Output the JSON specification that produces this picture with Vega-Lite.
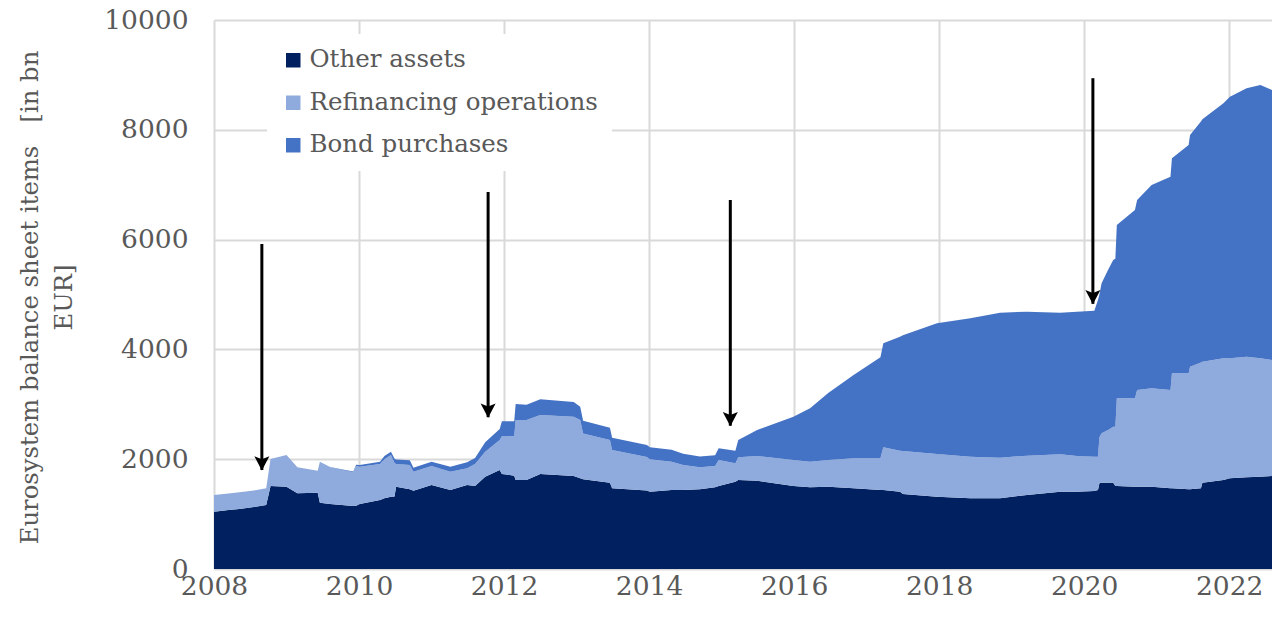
{
  "$schema": "https://vega.github.io/schema/vega-lite/v6.json",
  "width": 1058,
  "height": 549,
  "autosize": "none",
  "padding": {"left": 214, "top": 20, "right": 0, "bottom": 49},
  "background": "white",
  "config": {
    "view": {"stroke": null},
    "font": "DejaVu Serif",
    "axis": {
      "labelFont": "DejaVu Serif",
      "labelColor": "#595959",
      "labelFontSize": 26.5,
      "gridColor": "#d9d9d9",
      "gridWidth": 2,
      "ticks": false,
      "domain": false
    }
  },
  "datasets": {
    "bs": [
      {"t": 2008.00, "oth": 1044, "ref": 304, "bnd": 0},
      {"t": 2008.20, "oth": 1075, "ref": 300, "bnd": 0},
      {"t": 2008.35, "oth": 1093, "ref": 304, "bnd": 0},
      {"t": 2008.55, "oth": 1130, "ref": 300, "bnd": 0},
      {"t": 2008.72, "oth": 1166, "ref": 304, "bnd": 0},
      {"t": 2008.78, "oth": 1512, "ref": 492, "bnd": 0},
      {"t": 2009.00, "oth": 1500, "ref": 576, "bnd": 0},
      {"t": 2009.15, "oth": 1379, "ref": 473, "bnd": 0},
      {"t": 2009.43, "oth": 1390, "ref": 401, "bnd": 0},
      {"t": 2009.46, "oth": 1208, "ref": 747, "bnd": 0},
      {"t": 2009.60, "oth": 1184, "ref": 668, "bnd": 8},
      {"t": 2009.92, "oth": 1148, "ref": 613, "bnd": 14},
      {"t": 2009.96, "oth": 1150, "ref": 726, "bnd": 24},
      {"t": 2010.01, "oth": 1184, "ref": 680, "bnd": 30},
      {"t": 2010.29, "oth": 1257, "ref": 656, "bnd": 42},
      {"t": 2010.35, "oth": 1290, "ref": 710, "bnd": 60},
      {"t": 2010.44, "oth": 1317, "ref": 759, "bnd": 61},
      {"t": 2010.49, "oth": 1320, "ref": 610, "bnd": 80},
      {"t": 2010.51, "oth": 1500, "ref": 413, "bnd": 80},
      {"t": 2010.70, "oth": 1452, "ref": 442, "bnd": 85},
      {"t": 2010.75, "oth": 1426, "ref": 347, "bnd": 70},
      {"t": 2011.00, "oth": 1530, "ref": 346, "bnd": 79},
      {"t": 2011.26, "oth": 1439, "ref": 334, "bnd": 91},
      {"t": 2011.49, "oth": 1530, "ref": 304, "bnd": 110},
      {"t": 2011.60, "oth": 1512, "ref": 401, "bnd": 110},
      {"t": 2011.74, "oth": 1681, "ref": 456, "bnd": 170},
      {"t": 2011.94, "oth": 1803, "ref": 547, "bnd": 200},
      {"t": 2011.97, "oth": 1730, "ref": 690, "bnd": 270},
      {"t": 2012.14, "oth": 1700, "ref": 720, "bnd": 270},
      {"t": 2012.16, "oth": 1621, "ref": 1093, "bnd": 291},
      {"t": 2012.31, "oth": 1621, "ref": 1093, "bnd": 280},
      {"t": 2012.50, "oth": 1730, "ref": 1075, "bnd": 286},
      {"t": 2012.96, "oth": 1694, "ref": 1080, "bnd": 270},
      {"t": 2013.05, "oth": 1651, "ref": 1063, "bnd": 242},
      {"t": 2013.09, "oth": 1633, "ref": 837, "bnd": 230},
      {"t": 2013.46, "oth": 1572, "ref": 778, "bnd": 225},
      {"t": 2013.49, "oth": 1470, "ref": 698, "bnd": 222},
      {"t": 2013.97, "oth": 1430, "ref": 610, "bnd": 220},
      {"t": 2014.01, "oth": 1408, "ref": 590, "bnd": 218},
      {"t": 2014.31, "oth": 1439, "ref": 516, "bnd": 215},
      {"t": 2014.47, "oth": 1439, "ref": 455, "bnd": 206},
      {"t": 2014.70, "oth": 1452, "ref": 400, "bnd": 198},
      {"t": 2014.91, "oth": 1488, "ref": 388, "bnd": 194},
      {"t": 2014.96, "oth": 1512, "ref": 473, "bnd": 213},
      {"t": 2015.19, "oth": 1590, "ref": 335, "bnd": 230},
      {"t": 2015.23, "oth": 1621, "ref": 413, "bnd": 316},
      {"t": 2015.49, "oth": 1609, "ref": 449, "bnd": 474},
      {"t": 2015.99, "oth": 1512, "ref": 473, "bnd": 789},
      {"t": 2016.22, "oth": 1488, "ref": 467, "bnd": 972},
      {"t": 2016.47, "oth": 1500, "ref": 485, "bnd": 1220},
      {"t": 2016.82, "oth": 1470, "ref": 546, "bnd": 1518},
      {"t": 2017.19, "oth": 1439, "ref": 577, "bnd": 1840},
      {"t": 2017.23, "oth": 1439, "ref": 777, "bnd": 1895},
      {"t": 2017.46, "oth": 1408, "ref": 747, "bnd": 2076},
      {"t": 2017.50, "oth": 1366, "ref": 784, "bnd": 2110},
      {"t": 2017.97, "oth": 1317, "ref": 778, "bnd": 2380},
      {"t": 2018.43, "oth": 1288, "ref": 758, "bnd": 2520},
      {"t": 2018.84, "oth": 1288, "ref": 740, "bnd": 2641},
      {"t": 2019.21, "oth": 1348, "ref": 716, "bnd": 2623},
      {"t": 2019.67, "oth": 1408, "ref": 681, "bnd": 2580},
      {"t": 2019.90, "oth": 1408, "ref": 650, "bnd": 2629},
      {"t": 2020.14, "oth": 1421, "ref": 625, "bnd": 2659},
      {"t": 2020.19, "oth": 1439, "ref": 607, "bnd": 2854},
      {"t": 2020.21, "oth": 1560, "ref": 840, "bnd": 2600},
      {"t": 2020.24, "oth": 1572, "ref": 899, "bnd": 2733},
      {"t": 2020.33, "oth": 1572, "ref": 958, "bnd": 2920},
      {"t": 2020.40, "oth": 1572, "ref": 1020, "bnd": 3036},
      {"t": 2020.43, "oth": 1512, "ref": 1080, "bnd": 3058},
      {"t": 2020.45, "oth": 1512, "ref": 1597, "bnd": 3157},
      {"t": 2020.70, "oth": 1500, "ref": 1609, "bnd": 3430},
      {"t": 2020.73, "oth": 1500, "ref": 1760, "bnd": 3461},
      {"t": 2020.93, "oth": 1500, "ref": 1791, "bnd": 3704},
      {"t": 2021.19, "oth": 1470, "ref": 1790, "bnd": 3886},
      {"t": 2021.21, "oth": 1470, "ref": 2095, "bnd": 3916},
      {"t": 2021.44, "oth": 1452, "ref": 2113, "bnd": 4158},
      {"t": 2021.46, "oth": 1452, "ref": 2234, "bnd": 4219},
      {"t": 2021.61, "oth": 1470, "ref": 2290, "bnd": 4390},
      {"t": 2021.63, "oth": 1572, "ref": 2205, "bnd": 4413},
      {"t": 2021.92, "oth": 1621, "ref": 2217, "bnd": 4645},
      {"t": 2022.01, "oth": 1651, "ref": 2187, "bnd": 4766},
      {"t": 2022.24, "oth": 1670, "ref": 2198, "bnd": 4888},
      {"t": 2022.43, "oth": 1681, "ref": 2157, "bnd": 4978},
      {"t": 2022.59, "oth": 1694, "ref": 2113, "bnd": 4918}
    ],
    "names": [
      {"s": "oth", "name": "Other assets", "k": 1},
      {"s": "ref", "name": "Refinancing operations", "k": 2},
      {"s": "bnd", "name": "Bond purchases", "k": 3}
    ],
    "arrows": [
      {"t": 2008.66, "top": 5920, "tip": 1803},
      {"t": 2011.78, "top": 6867, "tip": 2765},
      {"t": 2015.12, "top": 6721, "tip": 2610},
      {"t": 2020.12, "top": 8940, "tip": 4830}
    ]
  },
  "layer": [
    {
      "data": {"name": "bs"},
      "transform": [
        {"fold": ["oth", "ref", "bnd"], "as": ["s", "v"]},
        {"lookup": "s", "from": {"data": {"name": "names"}, "key": "s", "fields": ["name", "k"]}}
      ],
      "mark": {"type": "area", "interpolate": "linear", "opacity": 1},
      "encoding": {
        "x": {
          "field": "t", "type": "quantitative",
          "scale": {"domain": [2008, 2022.59], "nice": false, "zero": false},
          "axis": {"values": [2008, 2010, 2012, 2014, 2016, 2018, 2020, 2022], "format": "d", "labelFlush": false, "labelOverlap": false, "labelPadding": 4, "title": null}
        },
        "y": {
          "field": "v", "type": "quantitative", "stack": "zero",
          "scale": {"domain": [0, 10000], "nice": false},
          "axis": {
            "values": [0, 2000, 4000, 6000, 8000, 10000], "format": "d",
            "labelPadding": 26,
            "title": ["Eurosystem balance sheet items\u00a0\u00a0 [in bn", "EUR]"],
            "titleFont": "DejaVu Serif", "titleFontSize": 24.3, "titleFontWeight": "normal",
            "titleColor": "#595959", "titleLineHeight": 34,
            "titleAngle": -90, "titleAlign": "center", "titleBaseline": "top",
            "titleX": -196, "titleY": 277
          }
        },
        "color": {
          "field": "name", "type": "nominal",
          "scale": {"domain": ["Other assets", "Refinancing operations", "Bond purchases"], "range": ["#002060", "#8faadc", "#4472c4"]},
          "legend": {
            "title": null, "orient": "none", "legendX": 53, "legendY": 14,
            "fillColor": "white", "padding": 14, "symbolType": "square", "symbolSize": 210,
            "symbolOpacity": 1, "symbolStrokeWidth": 0, "labelFont": "DejaVu Serif",
            "labelFontSize": 24.5, "labelColor": "#595959", "labelOffset": 4, "rowPadding": 17.5,
            "labelLimit": 400
          }
        },
        "order": {"field": "k", "type": "quantitative", "sort": "ascending"}
      }
    },
    {
      "data": {"name": "arrows"},
      "mark": {"type": "rule", "color": "black", "strokeWidth": 3},
      "encoding": {
        "x": {"field": "t", "type": "quantitative"},
        "y": {"field": "top", "type": "quantitative"},
        "y2": {"field": "tip"}
      }
    },
    {
      "data": {"name": "arrows"},
      "mark": {"type": "point", "shape": "M-1,-0.9L0,1L1,-0.9L0,-0.5Z", "size": 225, "filled": true, "color": "black", "opacity": 1, "yOffset": -7},
      "encoding": {
        "x": {"field": "t", "type": "quantitative"},
        "y": {"field": "tip", "type": "quantitative"}
      }
    }
  ]
}
